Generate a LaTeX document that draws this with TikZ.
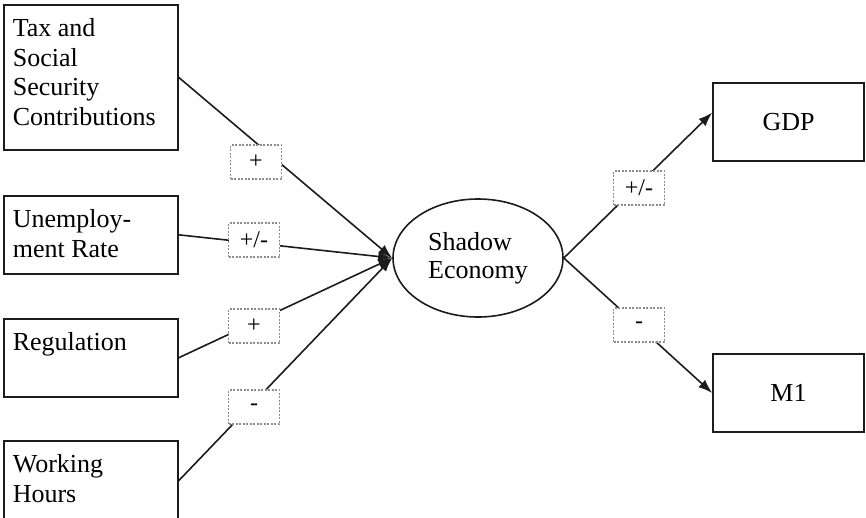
\documentclass[tikz,border=0pt]{standalone}
\usepackage{fontspec}
\setmainfont{Liberation Serif}
\usetikzlibrary{arrows.meta,shapes.geometric}
\definecolor{boxline}{HTML}{1C1C1C}
\definecolor{signline}{HTML}{8C8C8C}
\newcommand{\boxtext}[2]{\parbox[c][#1][t]{174pt}{\leftskip=9pt\rule{0pt}{32pt}#2}}
\tikzset{
  factor/.style={draw=boxline,line width=1.6pt,anchor=north west,inner sep=0pt,font=\fontsize{26}{29.5}\selectfont},
  outcome/.style={draw=boxline,line width=1.6pt,minimum width=151pt,minimum height=78pt,inner sep=0pt,font=\fontsize{26}{29}\selectfont},
  latent/.style={ellipse,draw=boxline,line width=1.6pt,minimum width=170pt,minimum height=118pt,inner sep=0pt,align=left,font=\fontsize{26}{28}\selectfont},
  sign/.style={draw=signline,dash pattern=on 2pt off 1.5pt,line width=1.3pt,fill=white,minimum width=51pt,minimum height=34pt,inner sep=0pt,font=\fontsize{24}{26}\selectfont},
  link/.style={boxline,line width=1.6pt,-{Latex[length=14pt,width=10pt]}}
}
\begin{document}
\begin{tikzpicture}[x=1pt,y=-1pt]
  \useasboundingbox (0,0) rectangle (866,517);
  % causes
  \node[factor] (tax) at (3,4) {\boxtext{145pt}{Tax and\\Social\\Security\\Contributions}};
  \node[factor] (unemp) at (3,195) {\boxtext{78pt}{Unemploy-\\ment Rate}};
  \node[factor] (reg) at (3,318) {\boxtext{78pt}{Regulation}};
  \node[factor] (work) at (3,440) {\boxtext{80pt}{Working\\Hours}};
  % latent variable and indicators
  \node[latent] (shadow) at (478,258) {Shadow\\Economy};
  \node[outcome] (gdp) at (788.5,122) {GDP};
  \node[outcome] (m1) at (788.5,393) {M1};
  % paths
  \draw[link] (tax.east) -- (shadow.west);
  \draw[link] (unemp.east) -- (shadow.west);
  \draw[link] (reg.east) -- (shadow.west);
  \draw[link] (work.east) -- (shadow.west);
  \draw[link] (shadow.east) -- (gdp.173);
  \draw[link] (shadow.east) -- (m1.west);
  % signs
  \node[sign] (taxsign) at (256,162) {+};
  \node[sign] (unempsign) at (254,240) {+/-};
  \node[sign] (regsign) at (254,326) {+};
  \node[sign] (worksign) at (254,407) {-};
  \node[sign] (gdpsign) at (639,188) {+/-};
  \node[sign] (m1sign) at (639,325) {-};
\end{tikzpicture}
\end{document}
